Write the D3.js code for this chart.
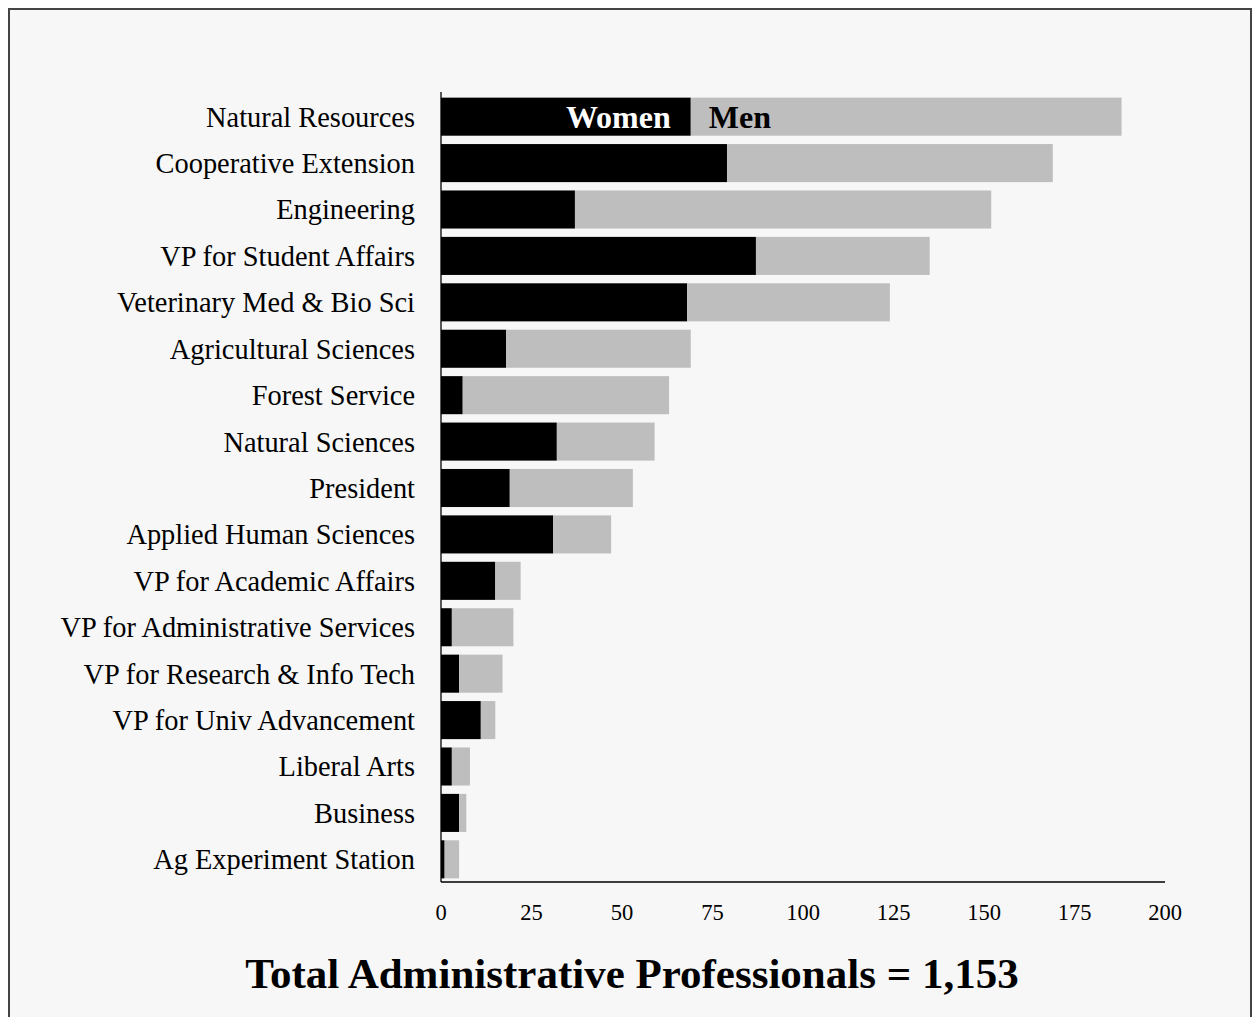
<!DOCTYPE html>
<html><head><meta charset="utf-8">
<script src="https://cdn.jsdelivr.net/npm/d3@7"></script>
<style>body{margin:0;background:#fff}</style>
</head><body>
<script>
const categories = ["Natural Resources","Cooperative Extension","Engineering","VP for Student Affairs","Veterinary Med & Bio Sci","Agricultural Sciences","Forest Service","Natural Sciences","President","Applied Human Sciences","VP for Academic Affairs","VP for Administrative Services","VP for Research & Info Tech","VP for Univ Advancement","Liberal Arts","Business","Ag Experiment Station"];
const women = [69,79,37,87,68,18,6,32,19,31,15,3,5,11,3,5,1];
const men   = [119,90,115,48,56,51,57,27,34,16,7,17,12,4,5,2,4];
const ticks = [0,25,50,75,100,125,150,175,200];
const title = "Total Administrative Professionals = 1,153";

const W=1253,H=1017;
const svg=d3.select("body").append("svg").attr("width",W).attr("height",H);
svg.append("rect").attr("x",9).attr("y",9).attr("width",1242).attr("height",1030)
  .attr("fill","#f7f7f7").attr("stroke","#444").attr("stroke-width",2);

const x=d3.scaleLinear().domain([0,200]).range([441,1165]);
const y=d3.scaleBand().domain(categories).range([93,883]).paddingInner(0.18).paddingOuter(0.1);
const font="Liberation Serif";

const g=svg.append("g");
categories.forEach((c,i)=>{
  g.append("rect").attr("x",x(0)).attr("y",y(c)).attr("width",x(women[i])-x(0)).attr("height",y.bandwidth()).attr("fill","#000");
  g.append("rect").attr("x",x(women[i])).attr("y",y(c)).attr("width",x(women[i]+men[i])-x(women[i])).attr("height",y.bandwidth()).attr("fill","#bebebe");
});

// category labels
svg.append("g").selectAll("text").data(categories).join("text")
  .attr("x",415).attr("y",d=>y(d)+y.bandwidth()/2).attr("dy","0.35em")
  .attr("text-anchor","end").attr("font-family",font).attr("font-size",28.4).attr("fill","#000").text(d=>d);

// axes lines
svg.append("line").attr("x1",x(0)).attr("x2",x(0)).attr("y1",92).attr("y2",882).attr("stroke","#000").attr("stroke-width",1.3);
svg.append("line").attr("x1",x(0)).attr("x2",x(200)).attr("y1",882).attr("y2",882).attr("stroke","#000").attr("stroke-width",1.3);

svg.append("g").selectAll("text").data(ticks).join("text")
  .attr("x",d=>x(d)).attr("y",920).attr("text-anchor","middle")
  .attr("font-family",font).attr("font-size",22.5).attr("fill","#000").text(d=>d);

// series labels
const c0=categories[0];
svg.append("text").attr("x",x(women[0])-20).attr("y",y(c0)+y.bandwidth()/2).attr("dy","0.35em")
  .attr("text-anchor","end").attr("font-family",font).attr("font-weight","bold").attr("font-size",32).attr("fill","#fff").text("Women");
svg.append("text").attr("x",x(women[0])+18).attr("y",y(c0)+y.bandwidth()/2).attr("dy","0.35em")
  .attr("text-anchor","start").attr("font-family",font).attr("font-weight","bold").attr("font-size",32).attr("fill","#000").text("Men");

svg.append("text").attr("x",632).attr("y",988).attr("text-anchor","middle")
  .attr("font-family",font).attr("font-weight","bold").attr("font-size",43).attr("fill","#000").text(title);
</script>
</body></html>
